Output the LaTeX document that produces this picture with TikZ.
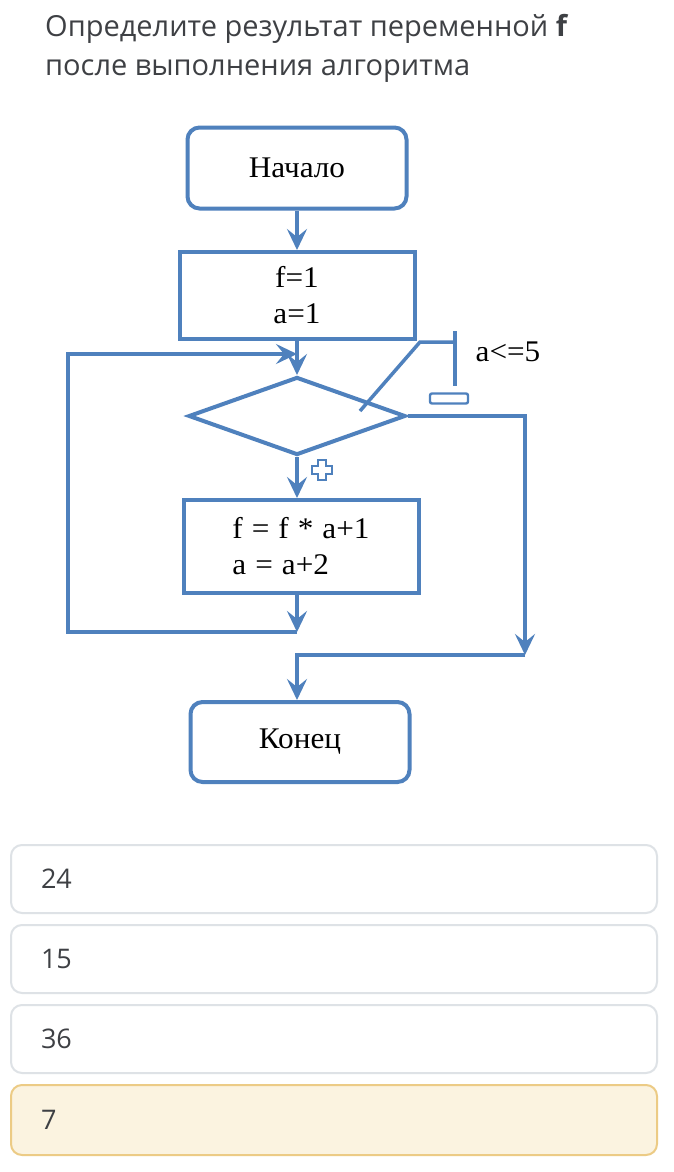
\documentclass[tikz,border=0pt]{standalone}
\usepackage{fontspec}
\setmainfont{Liberation Serif}
\newfontfamily\flowfont[FakeStretch=1.04]{Liberation Serif}
\newfontfamily\uifont{Open Sans}
\usetikzlibrary{arrows.meta,shapes.geometric}

\newcommand\widegaps{\spaceskip=9pt plus 1pt\relax}

\definecolor{flowblue}{RGB}{79,129,189}
\definecolor{uitext}{RGB}{62,64,68}
\definecolor{cardline}{RGB}{222,226,230}
\definecolor{pickfill}{RGB}{251,243,224}
\definecolor{pickline}{RGB}{236,203,133}

\tikzset{
	flowline/.style={draw=flowblue, line width=4pt},
	link/.style={flowline, -{Stealth[length=21pt,width=20pt,inset=8pt]}},
	terminal/.style={flowline, rounded corners=12pt, minimum width=219pt, minimum height=81pt, font=\flowfont\fontsize{30}{32}\selectfont},
	process/.style={flowline, minimum width=235pt, inner sep=0pt, font=\flowfont\fontsize{30}{36}\selectfont},
	decision/.style={flowline, diamond, aspect=2.78, minimum width=217pt, minimum height=78pt, inner sep=0pt},
	card/.style={draw=cardline, line width=2pt, fill=white, rounded corners=11pt, minimum width=646pt, minimum height=68pt, inner xsep=30pt, text width=586pt, align=left, font=\uifont\fontsize{27}{30}\selectfont, text=uitext},
	heading/.style={anchor=base west, inner sep=0pt, font=\uifont\fontsize{29}{38}\selectfont, text=uitext},
}

\begin{document}
\begin{tikzpicture}[x=1pt, y=-1pt]
	\useasboundingbox[fill=white] (0,0) rectangle (674,1172);

	\node[heading] (title1) at (45,37) {Определите результат переменной \textbf{f}};
	\node[heading] (title2) at (45,75) {после выполнения алгоритма};

	% flowchart
	\node[terminal] (start) at (297,168) {Начало};

	\node[process, minimum height=87pt, align=center] (init) at (297,295.5) {f=1\\a=1};

	\node[decision] (check) at (297,416) {};

	\node[process, minimum height=93pt, align=left, font=\flowfont\fontsize{30}{36}\selectfont\widegaps] (body) at (301,546.5) {f = f * a+1\\a = a+2};

	\node[terminal, minimum height=80pt] (stop) at (300,742) {Конец};

	\draw[link] (start.south) -- (init.north);

	\draw[link] (init.south) -- (check.north);

	\draw[link] (check.south) -- (check.south |- body.north);

	% loop back
	\coordinate (loopend) at (297,632);
	\coordinate (loopin) at (297,354);
	\draw[link] (check.south |- body.south) -- (loopend);
	\draw[link] (loopend) -- (68,632) -- (68,354) -- (loopin);

	% exit branch
	\coordinate (exitturn) at (525,655);
	\coordinate (exitdrop) at (297,655);
	\draw[link] (check.east) -- (525,416) -- (exitturn);
	\draw[link] (exitturn) -- (exitdrop) -- (exitdrop |- stop.north);

	% condition label
	\draw[flowline, line width=3.5pt] (360,411) -- (420,342) -- (455,342);
	\draw[flowline, line width=3.5pt] (455,331) -- (455,386);
	\node[font=\flowfont\fontsize{30}{32}\selectfont] (cond) at (508,352) {a<=5};

	\draw[flowblue, line width=2.4pt, rounded corners=2pt] (430,393.5) rectangle (468,403.5);
	\draw[flowblue, line width=2.4pt] (318,460) -- (326,460) -- (326,466) -- (332,466) -- (332,474) -- (326,474) -- (326,480) -- (318,480) -- (318,474) -- (312,474) -- (312,466) -- (318,466) -- cycle;

	% answers
	\node[card] (opt1) at (334,879) {24};
	\node[card] (opt2) at (334,959) {15};
	\node[card] (opt3) at (334,1039) {36};
	\node[card, fill=pickfill, draw=pickline, minimum height=70pt] (opt4) at (334,1120) {7};

\end{tikzpicture}
\end{document}
